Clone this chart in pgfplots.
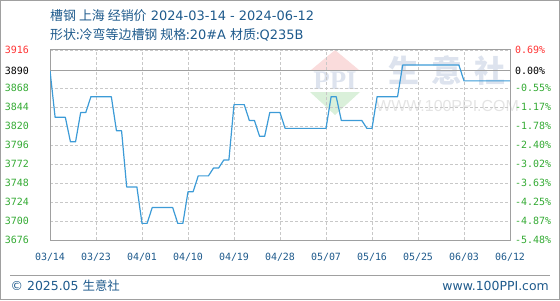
\documentclass[border=0pt]{standalone}
\usepackage{pgfplots}
\pgfplotsset{compat=1.18}
\usepackage{fontspec}
\setmainfont{DejaVu Sans}
\newfontfamily\cjk{Noto Sans CJK SC}
\newfontfamily\mono{DejaVu Sans Mono}
\newfontfamily\serifb{Liberation Serif}
\newfontfamily\wsans{Liberation Sans}
\definecolor{titleblue}{RGB}{30,90,140}
\definecolor{linec}{RGB}{60,155,215}
\definecolor{gridc}{RGB}{200,200,200}
\definecolor{framec}{RGB}{160,160,160}
\definecolor{rd}{RGB}{255,51,51}
\definecolor{gn}{RGB}{51,170,51}
\definecolor{wmblue}{RGB}{221,227,238}
\definecolor{wmred}{RGB}{250,220,220}
\definecolor{wmgreen}{RGB}{218,240,218}
\definecolor{wmgray}{RGB}{228,228,228}
\begin{document}
\begin{tikzpicture}[x=1bp,y=1bp]
\useasboundingbox (0,0) rectangle (560,300);
\draw[framec, line width=1bp] (0.5,0.5) rectangle (559.5,299.5);
% watermark
\fill[wmred] (335,250) -- (311,230) -- (359,230) -- cycle;
\fill[wmgreen] (310,208) -- (360,208) -- (335,185) -- cycle;
\node[text=wmblue, inner sep=0pt, font=\serifb\bfseries\fontsize{27}{27}\selectfont] at (335,219) {PPI};
\node[text=wmblue, inner sep=0pt, font=\cjk\bfseries\fontsize{31}{31}\selectfont] at (447,229) {生\hspace{12bp}意\hspace{12bp}社};
\node[text=wmgray, inner sep=0pt, font=\wsans\fontsize{16}{16}\selectfont] at (447.5,194) {WWW.100PPI.COM};
% titles
\node[anchor=base west, inner sep=0pt, text=titleblue, font=\fontsize{13}{15}\selectfont] at (50,280) {{\cjk 槽钢 上海 经销价} 2024-03-14 - 2024-06-12};
\node[anchor=base west, inner sep=0pt, text=titleblue, font=\fontsize{13}{15}\selectfont] at (50,261) {{\cjk 形状:冷弯等边槽钢 规格:}20\#A {\cjk 材质:}Q235B};
% footer
\draw[framec, line width=1bp] (10,24.7) -- (550,24.7);
\node[anchor=base west, inner sep=0pt, text=titleblue, font=\fontsize{12.5}{14}\selectfont] at (10.5,9.5) {© 2025.05 {\cjk 生意社}};
\node[anchor=base east, inner sep=0pt, text=titleblue, font=\fontsize{12.5}{14}\selectfont] at (549,9.5) {www.100PPI.com};
\begin{axis}[
  at={(50bp,60bp)}, anchor=south west,
  width=460bp, height=190bp, scale only axis,
  xmin=0, xmax=90, ymin=3676, ymax=3916,
  xtick={0,9,18,27,36,45,54,63,72,81,90},
  xticklabels={03/14,03/23,04/01,04/10,04/19,04/28,05/07,05/16,05/25,06/03,06/12},
  ytick={3676,3700,3724,3748,3772,3796,3820,3844,3868,3916},
  yticklabels={\textcolor{gn}{3676},\textcolor{gn}{3700},\textcolor{gn}{3724},\textcolor{gn}{3748},\textcolor{gn}{3772},\textcolor{gn}{3796},\textcolor{gn}{3820},\textcolor{gn}{3844},\textcolor{gn}{3868},\textcolor{rd}{3916}},
  extra y ticks={3890},
  extra y tick labels={3890},
  extra y tick style={grid style={solid, draw=framec, line width=1bp}},
  grid=major,
  grid style={draw=gridc, line width=0.8bp, dash pattern=on 3bp off 2bp},
  axis line style={draw=framec, line width=1bp},
  major tick length=0pt,
  tick style={draw=none},
  xticklabel style={font=\mono\fontsize{10}{12}\selectfont, text=titleblue, anchor=base, inner sep=0pt, yshift=-20.5bp},
  yticklabel style={font=\mono\fontsize{10}{12}\selectfont, anchor=east, inner sep=0pt, xshift=-21bp},
]
\addplot[color=linec, line width=1.2bp, line join=round] coordinates {
(0,3890) (1,3831) (3,3831) (4,3800) (5,3800) (6,3837) (7,3837) (8,3857) (12,3857)
(13,3814) (14,3814) (15,3743) (17,3743) (18,3697) (19,3697) (20,3717) (24,3717)
(25,3697) (26,3697) (27,3737) (28,3737) (29,3757) (31,3757) (32,3767) (33,3767)
(34,3777) (35,3777) (36,3847) (38,3847) (39,3827) (40,3827) (41,3807) (42,3807)
(43,3837) (45,3837) (46,3817) (54,3817) (55,3857) (56,3857) (57,3827) (61,3827)
(62,3817) (63,3817) (64,3857) (68,3857) (69,3897) (80,3897) (81,3877) (90,3877)
};
\end{axis}
\begin{axis}[
  at={(50bp,60bp)}, anchor=south west,
  width=460bp, height=190bp, scale only axis,
  xmin=0, xmax=90, ymin=3676, ymax=3916,
  hide x axis,
  axis y line*=right,
  axis line style={draw=none},
  major tick length=0pt,
  tick style={draw=none},
  ytick={3676,3700,3724,3748,3772,3796,3820,3844,3868,3916},
  yticklabels={\textcolor{gn}{-5.48\%},\textcolor{gn}{-4.87\%},\textcolor{gn}{-4.25\%},\textcolor{gn}{-3.63\%},\textcolor{gn}{-3.02\%},\textcolor{gn}{-2.40\%},\textcolor{gn}{-1.78\%},\textcolor{gn}{-1.17\%},\textcolor{gn}{-0.55\%},\textcolor{rd}{0.69\%}},
  extra y ticks={3890},
  extra y tick labels={0.00\%},
  yticklabel style={font=\mono\fontsize{10}{12}\selectfont, anchor=west, inner sep=0pt, xshift=5bp},
]
\addplot[draw=none] coordinates {(0,3800)};
\end{axis}
\end{tikzpicture}
\end{document}
